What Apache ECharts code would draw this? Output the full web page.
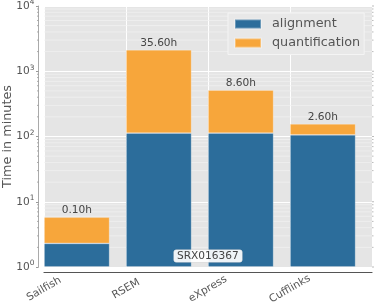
<!DOCTYPE html>
<html>
<head>
<meta charset="utf-8">
<script src="https://cdn.jsdelivr.net/npm/echarts@6/dist/echarts.min.js"></script>
<style>html,body{margin:0;padding:0;background:#fff;}#c{width:374px;height:307px;}</style>
</head>
<body>
<div id="c"></div>
<script>
var categories = ['Sailfish', 'RSEM', 'eXpress', 'Cufflinks'];
var alignment = [2.3, 113, 113, 106];
var quantification = [3.5, 2023, 403, 50];
var majorTicks = [1, 10, 100, 1000, 10000];
var minorTicks = [2,3,4,5,6,7,8,9,20,30,40,50,60,70,80,90,200,300,400,500,600,700,800,900,2000,3000,4000,5000,6000,7000,8000,9000];
var annotation = 'SRX016367';

var FONT = 'DejaVu Sans';
var axisCats = categories.concat(['']);
var chart = echarts.init(document.getElementById('c'), null, {renderer: 'canvas'});

function tickItem(withGrid, len) {
  return function (params, api) {
    var v = api.value(0);
    var p0 = api.coord([0, v]);
    var p1 = api.coord([categories.length, v]);
    var children = [];
    if (withGrid) {
      children.push({type: 'line', shape: {x1: p0[0], y1: p0[1], x2: p1[0], y2: p1[1]},
        style: {stroke: '#f2f2f2', lineWidth: 0.7}});
      children.push({type: 'line', shape: {x1: p0[0] - 5.5 - len, y1: p0[1], x2: p0[0] - 5.5, y2: p0[1]},
        style: {stroke: '#999', lineWidth: 0.8}});
    }
    children.push({type: 'line', shape: {x1: p1[0], y1: p1[1], x2: p1[0] + len, y2: p1[1]},
      style: {stroke: '#aaa', lineWidth: 0.8}});
    return {type: 'group', children: children};
  };
}

var option = {
  animation: false,
  textStyle: {fontFamily: FONT},
  grid: {left: 44, right: 2, top: 6, bottom: 40, show: true, backgroundColor: '#e5e5e5', borderWidth: 0,
    containLabel: false, outerBoundsMode: 'none'},
  title: {
    text: annotation, left: 173, top: 249,
    padding: [2, 4, 1, 4], backgroundColor: 'rgba(255,255,255,0.92)', borderRadius: 3,
    borderColor: 'rgba(0,0,0,0.15)', borderWidth: 0.5,
    textStyle: {fontFamily: FONT, fontSize: 10.6, fontWeight: 'normal', color: '#444'}
  },
  legend: {
    left: 228, top: 13, orient: 'vertical', icon: 'rect',
    itemWidth: 26, itemHeight: 9, itemGap: 6,
    padding: [4.5, 4, 5, 6],
    backgroundColor: '#e8e8e8', borderColor: '#f4f4f4', borderWidth: 1,
    textStyle: {fontFamily: FONT, fontSize: 12.8, color: '#555', padding: [0, 0, 0, 6]},
    data: ['alignment', 'quantification']
  },
  xAxis: [
    {
      type: 'category', data: categories, boundaryGap: true, show: false
    },
    {
      type: 'category', data: axisCats, boundaryGap: false, position: 'bottom', offset: 5,
      axisLine: {show: true, lineStyle: {color: '#555', width: 1.2}},
      axisTick: {show: false},
      splitLine: {show: true, interval: 0, lineStyle: {color: '#ffffff', width: 1}},
      axisLabel: {
        interval: 0, rotate: 30, align: 'center', verticalAlign: 'middle', margin: 17,
        fontFamily: FONT, fontSize: 10.6, color: '#555'
      }
    }
  ],
  yAxis: {
    type: 'log', logBase: 10, min: 1, max: 10000, offset: 5.5,
    name: 'Time in minutes', nameLocation: 'middle', nameGap: 24, nameRotate: 90,
    nameMoveOverlap: false,
    nameTextStyle: {fontFamily: FONT, fontSize: 12.8, color: '#555'},
    axisLine: {show: true, lineStyle: {color: '#aaa', width: 1}},
    axisTick: {show: true, length: 2.5, lineStyle: {color: '#999'}},
    splitLine: {show: true, lineStyle: {color: '#ffffff', width: 1.1}},
    axisLabel: {
      margin: 4, color: '#555',
      formatter: function (v) { return '{b|10}{s|' + Math.round(Math.log10(v)) + '}'; },
      rich: {
        b: {fontFamily: FONT, fontSize: 10.6, color: '#555'},
        s: {fontFamily: FONT, fontSize: 7.4, color: '#555', padding: [0, 0, 7, 0]}
      }
    }
  },
  series: [
    {
      type: 'custom', name: 'minor', z: 1, silent: true, clip: false, xAxisIndex: 1,
      renderItem: tickItem(true, 1.5),
      data: minorTicks.map(function (v) { return [v]; }),
      encode: {y: 0}
    },
    {
      type: 'custom', name: 'major', z: 1, silent: true, clip: false, xAxisIndex: 1,
      renderItem: tickItem(false, 2.5),
      data: majorTicks.map(function (v) { return [v]; }),
      encode: {y: 0}
    },
    {
      name: 'alignment', type: 'bar', stack: 'total', barWidth: 65.6, barGap: '0%', z: 3, xAxisIndex: 0,
      itemStyle: {color: '#2c6d9b', borderColor: 'rgba(255,255,255,0.3)', borderWidth: 0.8},
      data: alignment
    },
    {
      name: 'quantification', type: 'bar', stack: 'total', barWidth: 65.6, barGap: '0%', z: 3, xAxisIndex: 0,
      itemStyle: {color: '#f7a63b', borderColor: 'rgba(255,255,255,0.3)', borderWidth: 0.8},
      label: {
        show: true, position: 'top', distance: 1,
        fontFamily: FONT, fontSize: 10.6, color: '#444',
        formatter: function (p) {
          var i = p.dataIndex;
          return ((alignment[i] + quantification[i]) / 60).toFixed(2) + 'h';
        }
      },
      data: quantification
    },
    {
      // empty spacer so each stacked bar starts at its tick (matplotlib align='edge')
      name: 'spacer', type: 'bar', stack: 'spacer', barWidth: 16.4, barGap: '0%', silent: true, xAxisIndex: 0,
      itemStyle: {color: 'rgba(0,0,0,0)'},
      data: categories.map(function () { return '-'; })
    }
  ]
};
chart.setOption(option);
</script>
</body>
</html>
